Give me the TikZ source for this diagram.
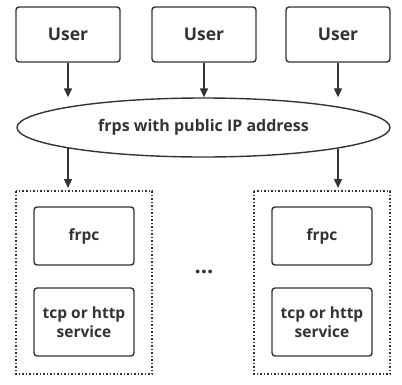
\documentclass[tikz,border=0pt]{standalone}
\usepackage{fontspec}
\setmainfont{Open Sans}
\usetikzlibrary{arrows.meta, shapes.geometric}
\definecolor{ink}{HTML}{333333}

\begin{document}
\begin{tikzpicture}[x=1pt, y=-1pt, line width=1.4pt, draw=ink, text=ink,
    box/.style={draw=ink, rounded corners=3pt, minimum width=104pt, minimum height=55pt, inner sep=0pt, font=\bfseries\fontsize{17.5}{20}\selectfont},
    inbox/.style={draw=ink, rounded corners=3pt, minimum width=100pt, inner sep=0pt, align=center, font=\bfseries\fontsize{15.5}{19}\selectfont},
    group/.style={draw=ink, dotted, line width=1.5pt},
    link/.style={draw=ink, -{Triangle[length=9pt, width=8pt]}}]
    \useasboundingbox (0,0) rectangle (402,384);
    % Users
    \node[box] (u1) at (68,34.5) {User};
    \node[box] (u2) at (204,34.5) {User};
    \node[box] (u3) at (338,34.5) {User};
    % Server
    \node[draw=ink, ellipse, minimum width=373pt, minimum height=59pt, inner sep=0pt,
          font=\bfseries\fontsize{16}{19}\selectfont] (srv) at (203.5,127.5) {frps with public IP address};
    % Client groups
    \draw[group] (16,191) rectangle (152,374);
    \draw[group] (254,191) rectangle (390,374);
    \coordinate (g1) at (68,188);
    \coordinate (g2) at (338,188);
    \node[inbox, minimum height=58pt] (c1) at (84,236) {frpc};
    \node[inbox, minimum height=68pt] (s1) at (84,322) {tcp or http\\service};
    \node[inbox, minimum height=58pt] (c2) at (322,236) {frpc};
    \node[inbox, minimum height=68pt] (s2) at (322,322) {tcp or http\\service};
    \node[font=\bfseries\fontsize{22}{22}\selectfont, inner sep=0pt] (dots) at (204,272) {...};
    % Links
    \draw[link] (u1.south) -- (u1 |- srv.north);
    \draw[link] (u2.south) -- (u2 |- srv.north);
    \draw[link] (u3.south) -- (u3 |- srv.north);
    \draw[link] (u1 |- srv.188.6) -- (g1);
    \draw[link] (u3 |- srv.351.4) -- (g2);
\end{tikzpicture}
\end{document}
